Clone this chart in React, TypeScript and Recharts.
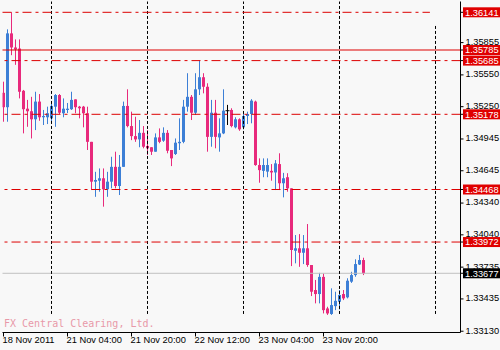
import { Bar, ComposedChart, ReferenceArea, ReferenceLine, XAxis, YAxis } from 'recharts';

// EURUSD-style H1 candles, 18 Nov 2011 12:00 .. 24 Nov 2011 06:00
const opens = [
  1.35381, 1.35245, 1.35942, 1.35809, 1.35799, 1.354, 1.35231, 1.35207, 1.35131, 1.35298,
  1.3515, 1.3515, 1.3514, 1.3525, 1.3536, 1.35188, 1.35219, 1.35226, 1.35319, 1.3525,
  1.3525, 1.35188, 1.34918, 1.34542, 1.34551, 1.34574, 1.3447, 1.34542, 1.34682, 1.34501,
  1.34682, 1.35257, 1.35067, 1.34972, 1.34941, 1.35003, 1.34879, 1.34867, 1.34825, 1.3496,
  1.34929, 1.35003, 1.34841, 1.34803, 1.34905, 1.34918, 1.3525, 1.35343, 1.35193, 1.35414,
  1.35528, 1.35438, 1.34965, 1.35193, 1.3496, 1.34998, 1.35212, 1.35219, 1.35055, 1.35131,
  1.35055, 1.35162, 1.35181, 1.35298, 1.34699, 1.34644, 1.34637, 1.34644, 1.34629, 1.34708,
  1.34527, 1.34584, 1.34479, 1.3389, 1.33913, 1.33871, 1.33913, 1.33755, 1.33519, 1.33481,
  1.33643, 1.33345, 1.33293, 1.33367, 1.33408, 1.33481, 1.3345, 1.33598, 1.3366, 1.3376,
  1.33802,
];
const highs = [
  1.35486, 1.3598, 1.36141, 1.35885, 1.35885, 1.35408, 1.35314, 1.35343, 1.35391, 1.35369,
  1.35219, 1.3525, 1.35298, 1.35369, 1.35369, 1.35328, 1.35285, 1.35391, 1.35319, 1.35257,
  1.35257, 1.3525, 1.34918, 1.34635, 1.34667, 1.34667, 1.34635, 1.34777, 1.34825, 1.34794,
  1.35298, 1.35414, 1.35203, 1.35155, 1.35124, 1.35067, 1.35029, 1.34867, 1.34998, 1.35045,
  1.35055, 1.35029, 1.34841, 1.3495, 1.3514, 1.35314, 1.35566, 1.3536, 1.35566, 1.35685,
  1.35566, 1.35471, 1.35314, 1.35314, 1.3514, 1.35414, 1.35267, 1.35235, 1.3515, 1.3514,
  1.35181, 1.35203, 1.35321, 1.35307, 1.34762, 1.34762, 1.34762, 1.34708, 1.34746, 1.3481,
  1.34625, 1.34622, 1.34479, 1.34038, 1.34047, 1.34038, 1.34142, 1.33755, 1.33614, 1.33681,
  1.33675, 1.33361, 1.33535, 1.33503, 1.33519, 1.33519, 1.3363, 1.33691, 1.33809, 1.3385,
  1.33824,
];
const lows = [
  1.35108, 1.35108, 1.35736, 1.35645, 1.35328, 1.34998, 1.3506, 1.3495, 1.35029, 1.35117,
  1.35077, 1.35086, 1.35093, 1.3506, 1.35181, 1.3515, 1.3519, 1.35219, 1.35188, 1.3514,
  1.35055, 1.34841, 1.34463, 1.34399, 1.34447, 1.34306, 1.34399, 1.34479, 1.34479, 1.34416,
  1.34682, 1.35055, 1.34934, 1.34918, 1.34867, 1.34857, 1.34794, 1.34794, 1.34825, 1.34905,
  1.34918, 1.3481, 1.34689, 1.34794, 1.34841, 1.34905, 1.35203, 1.35124, 1.35172, 1.3536,
  1.35376, 1.34825, 1.34872, 1.34857, 1.34825, 1.34991, 1.35077, 1.35055, 1.35045, 1.35022,
  1.35036, 1.35086, 1.35093, 1.34692, 1.34532, 1.34584, 1.34584, 1.34551, 1.34463, 1.34463,
  1.34394, 1.34447, 1.33745, 1.33771, 1.33738, 1.33764, 1.33738, 1.33462, 1.33393, 1.33393,
  1.33298, 1.33284, 1.33284, 1.33329, 1.33336, 1.33424, 1.3344, 1.33586, 1.33644, 1.33755,
  1.3366,
];
const closes = [
  1.35245, 1.35942, 1.35809, 1.3579, 1.35391, 1.35226, 1.35207, 1.35131, 1.35298, 1.3515,
  1.35162, 1.35188, 1.35257, 1.3536, 1.35193, 1.35231, 1.35231, 1.35314, 1.35245, 1.35235,
  1.35188, 1.34918, 1.34542, 1.34558, 1.34574, 1.3447, 1.34542, 1.34682, 1.34501, 1.34682,
  1.35257, 1.35067, 1.34972, 1.34941, 1.35003, 1.34872, 1.34857, 1.34825, 1.3496, 1.34918,
  1.35003, 1.34834, 1.34762, 1.3491, 1.34918, 1.3525, 1.35343, 1.35193, 1.35414, 1.35528,
  1.35438, 1.34965, 1.35193, 1.34965, 1.34998, 1.35212, 1.35212, 1.35067, 1.35131, 1.35036,
  1.35162, 1.35181, 1.35307, 1.34699, 1.34651, 1.34699, 1.34699, 1.34629, 1.34715, 1.34527,
  1.34574, 1.34479, 1.33897, 1.33913, 1.33871, 1.33913, 1.33755, 1.33503, 1.33481, 1.33643,
  1.33329, 1.33298, 1.33377, 1.33417, 1.33472, 1.3344, 1.33607, 1.3366, 1.33764, 1.33802,
  1.33677,
];

const timeTicks = [0, 16, 32, 48, 64, 80];
const timeLabels = ['18 Nov 2011', '21 Nov 04:00', '21 Nov 20:00', '22 Nov 12:00', '23 Nov 04:00', '23 Nov 20:00'];
const priceTicks = [1.35855, 1.3555, 1.3525, 1.34945, 1.34645, 1.3434, 1.3404, 1.33735, 1.33435, 1.3313];

// horizontal levels drawn by the indicator
const dashLevels = [1.35685, 1.35178, 1.34468, 1.33972];
const topLevel = 1.36141;
const topLevelEnd = 106.6;
const solidLevel = 1.35785;
const lastPrice = 1.33677;

// day separators (bar index) and their price span
const daySeparators = [12, 36, 60, 84, 108];
const separatorTops = [1.36243, 1.36243, 1.36243, 1.36243, 1.36021];
const separatorBottom = 1.33293;

const X_DOMAIN: [number, number] = [-0.25, 114.25];
const Y_DOMAIN: [number, number] = [1.33118, 1.36243];

const BULL = '#3d7fd6';
const BEAR = '#e82a7c';
const LEVEL_RED = '#dd0000';
const FONT = '"Liberation Sans", Arial, sans-serif';

const candles = opens.map((o, i) => ({
  i,
  open: o,
  high: highs[i],
  low: lows[i],
  close: closes[i],
  range: [lows[i], highs[i]],
}));

function Candle(props: any) {
  const { x, y, width, height, payload } = props;
  if (!payload) return null;
  const top = Math.min(y, y + height);
  const h = Math.abs(height);
  const span = payload.high - payload.low;
  const toY = (v: number) => top + ((payload.high - v) / span) * h;
  const cx = Math.floor(x + width / 2) + 0.5;
  const flat = payload.close === payload.open;
  const color = flat ? '#000' : payload.close > payload.open ? BULL : BEAR;
  const bodyTop = toY(Math.max(payload.open, payload.close));
  const bodyBottom = toY(Math.min(payload.open, payload.close));
  return (
    <g>
      <line x1={cx} x2={cx} y1={top} y2={top + h} stroke={color} strokeWidth={1} />
      {flat ? (
        <line x1={cx - 2} x2={cx + 2} y1={bodyTop} y2={bodyTop} stroke={color} strokeWidth={1} />
      ) : (
        <rect x={cx - 1.5} y={bodyTop} width={3} height={Math.max(1, bodyBottom - bodyTop)} fill={color} />
      )}
    </g>
  );
}

function PriceTag({ viewBox, text, bg }: { viewBox: any; text: string; bg: string }) {
  const ly = viewBox.y;
  const right = viewBox.x + viewBox.width;
  return (
    <g>
      <line x1={right} x2={right + 3} y1={ly} y2={ly} stroke="#000" />
      <rect x={right + 2.5} y={ly - 5} width={500 - right - 2.5} height={10} fill={bg} />
      <text x={right + 4.5} y={ly} dy={3.4} fill="#fff" fontSize={9.3} fontFamily={FONT}>
        {text}
      </text>
    </g>
  );
}

function TimeTick({ x, y, payload }: any) {
  const label = timeLabels[timeTicks.indexOf(payload.value)];
  return (
    <text x={x - 1} y={y + 4.8} fill="#000" fontSize={9.3} fontFamily={FONT}>
      {label}
    </text>
  );
}

function PriceTick({ x, y, payload }: any) {
  return (
    <text x={x} y={y} dy={2.4} fill="#000" fontSize={9.3} fontFamily={FONT}>
      {payload.value.toFixed(5)}
    </text>
  );
}

const tag = (text: string, bg: string) => (p: any) => <PriceTag viewBox={p.viewBox} text={text} bg={bg} />;

export default function App() {
  return (
    <div style={{ position: 'absolute', left: 0, top: 0, width: 500, height: 350, background: '#f8f8f8' }}>
      <ComposedChart
        width={500}
        height={350}
        data={candles}
        margin={{ top: 1.5, right: 0, left: 2.5, bottom: 0 }}
      >
        <XAxis
          type="number"
          dataKey="i"
          domain={X_DOMAIN}
          allowDataOverflow
          ticks={timeTicks}
          interval={0}
          height={17.5}
          tickSize={4}
          axisLine={{ stroke: '#000' }}
          tickLine={{ stroke: '#000' }}
          tick={<TimeTick />}
        />
        <YAxis
          orientation="right"
          type="number"
          domain={Y_DOMAIN}
          allowDataOverflow
          ticks={priceTicks}
          interval={0}
          width={39.5}
          tickSize={3}
          tickMargin={2}
          axisLine={{ stroke: '#000' }}
          tickLine={{ stroke: '#000' }}
          tick={<PriceTick />}
        />
        <ReferenceArea fill="none" stroke="#000" strokeWidth={1} ifOverflow="visible" />
        <ReferenceLine y={lastPrice} stroke="#c0c0c0" label={tag('1.33677', '#000')} />
        {daySeparators.map((d, k) => (
          <ReferenceLine
            key={d}
            segment={[
              { x: d, y: separatorBottom },
              { x: d, y: separatorTops[k] },
            ]}
            stroke="#000"
            strokeDasharray="3 2"
          />
        ))}
        <Bar dataKey="range" barSize={3} isAnimationActive={false} shape={(p: any) => <Candle {...p} />} />
        <ReferenceLine
          segment={[
            { x: X_DOMAIN[0], y: topLevel },
            { x: topLevelEnd, y: topLevel },
          ]}
          stroke={LEVEL_RED}
          strokeDasharray="9 4 3 4"
        />
        <ReferenceLine y={topLevel} stroke="none" label={tag('1.36141', '#e00000')} />
        <ReferenceLine y={solidLevel} stroke={LEVEL_RED} label={tag('1.35785', '#e00000')} />
        {dashLevels.map((v) => (
          <ReferenceLine
            key={v}
            y={v}
            stroke={LEVEL_RED}
            strokeDasharray="9 4 3 4"
            label={tag(v.toFixed(5), '#e00000')}
          />
        ))}
      </ComposedChart>
      <div
        style={{
          position: 'absolute',
          left: 4,
          top: 319,
          fontFamily: '"DejaVu Sans Mono", monospace',
          fontSize: 10,
          lineHeight: '10px',
          color: '#e899a8',
          whiteSpace: 'pre',
        }}
      >
        FX Central Clearing, Ltd.
      </div>
    </div>
  );
}
